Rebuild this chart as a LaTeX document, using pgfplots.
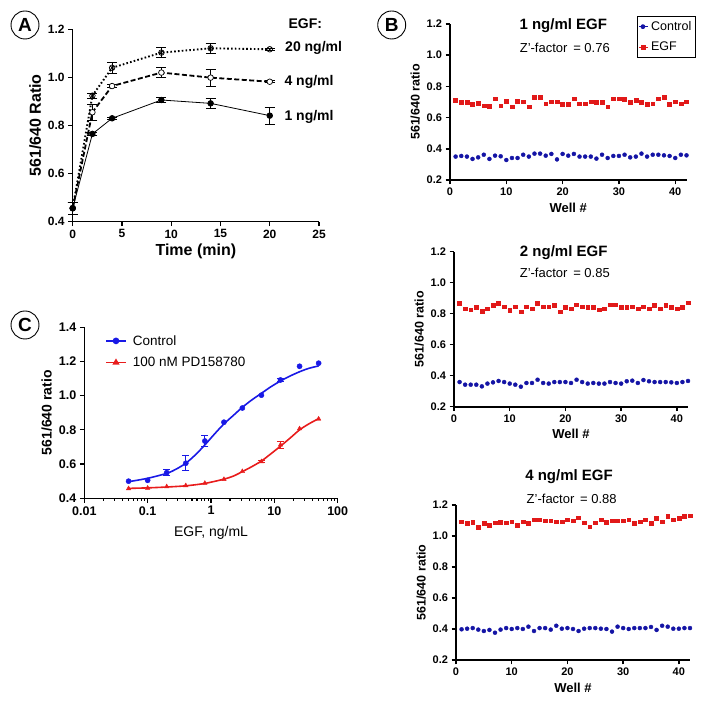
\documentclass[border=0pt]{standalone}
\usepackage{fontspec}
\setmainfont{Liberation Sans}
\usepackage{pgfplots}
\pgfplotsset{compat=1.18}
\usepackage{pgfplotstable}

\definecolor{bblue}{RGB}{20,20,165}
\definecolor{bred}{RGB}{225,25,25}
\definecolor{cblue}{RGB}{25,25,230}
\definecolor{cred}{RGB}{232,28,28}
\newcommand{\fs}[1]{\fontsize{#1}{#1}\selectfont}

\pgfplotsset{prism/.style={scale only axis, axis lines=left, axis line style={-, line width=1.2pt},
  tick align=outside, major tick length=4.5pt, minor tick length=2.5pt, tick style={black, line width=1.2pt}, clip=false}}

\pgfplotstableread{
w c1 e1 c2 e2 c3 e3
1 0.350 0.713 0.359 0.865 0.398 1.092
2 0.354 0.696 0.342 0.832 0.402 1.080
3 0.350 0.696 0.342 0.826 0.406 1.088
4 0.335 0.683 0.342 0.839 0.396 1.056
5 0.345 0.693 0.331 0.815 0.387 1.080
6 0.362 0.676 0.349 0.832 0.394 1.067
7 0.335 0.672 0.357 0.852 0.376 1.086
8 0.356 0.721 0.366 0.865 0.396 1.090
9 0.352 0.676 0.359 0.845 0.406 1.086
10 0.328 0.706 0.349 0.820 0.400 1.092
11 0.341 0.670 0.342 0.845 0.406 1.071
12 0.341 0.706 0.329 0.813 0.400 1.092
13 0.362 0.702 0.353 0.845 0.415 1.080
14 0.350 0.670 0.353 0.832 0.387 1.105
15 0.369 0.728 0.374 0.865 0.406 1.105
16 0.369 0.728 0.353 0.845 0.406 1.099
17 0.356 0.689 0.349 0.845 0.396 1.099
18 0.367 0.702 0.359 0.852 0.421 1.092
19 0.332 0.702 0.359 0.813 0.402 1.092
20 0.367 0.683 0.359 0.839 0.406 1.105
21 0.356 0.683 0.353 0.832 0.400 1.099
22 0.367 0.721 0.374 0.858 0.387 1.118
23 0.350 0.689 0.359 0.845 0.402 1.086
24 0.350 0.689 0.349 0.839 0.406 1.060
25 0.350 0.702 0.353 0.839 0.406 1.086
26 0.337 0.696 0.349 0.826 0.402 1.105
27 0.362 0.696 0.349 0.832 0.400 1.088
28 0.341 0.670 0.359 0.858 0.383 1.099
29 0.354 0.721 0.353 0.858 0.415 1.099
30 0.354 0.721 0.349 0.839 0.406 1.099
31 0.362 0.717 0.364 0.839 0.400 1.105
32 0.345 0.696 0.368 0.845 0.406 1.080
33 0.350 0.713 0.353 0.832 0.406 1.092
34 0.369 0.696 0.372 0.845 0.406 1.105
35 0.350 0.683 0.364 0.832 0.413 1.080
36 0.362 0.689 0.359 0.852 0.394 1.112
37 0.362 0.721 0.359 0.832 0.421 1.092
38 0.358 0.728 0.359 0.852 0.415 1.125
39 0.354 0.683 0.357 0.839 0.402 1.105
40 0.341 0.702 0.353 0.832 0.402 1.112
41 0.362 0.689 0.359 0.839 0.406 1.125
42 0.358 0.702 0.366 0.871 0.406 1.131
}\tabB

\begin{document}
\begin{tikzpicture}
\useasboundingbox (0,0) rectangle (701pt,708pt);

% ---------------- Panel A ----------------
\begin{axis}[prism, at={(72.7pt,486.3pt)}, anchor=south west, width=246.3pt, height=192.4pt,
  xmin=0, xmax=25, ymin=0.4, ymax=1.2,
  xtick={0,5,10,15,20,25}, xticklabels={0,5,10,15,20,25},
  ytick={0.4,0.6,0.8,1.0,1.2}, yticklabels={0.4,0.6,0.8,1.0,1.2},
  ticklabel style={font=\bfseries\fs{12}},
  xlabel={Time (min)}, ylabel={561/640 Ratio},
  label style={font=\bfseries\fs{16}}, xlabel style={yshift=1.5pt}]
\addplot[black, line width=1.9pt, dash pattern=on 1.6pt off 2.2pt, mark=otimes, mark size=2.8pt,
  mark options={solid, line width=0.7pt, fill=white},
  error bars/.cd, y dir=both, y explicit, error bar style={solid, line width=0.8pt},
  error mark options={rotate=90, mark size=5pt, line width=0.8pt}]
  coordinates {(0,0.456) +- (0,0.024) (2,0.924) +- (0,0.01) (4,1.040) +- (0,0.024)
               (9,1.103) +- (0,0.02) (14,1.121) +- (0,0.02) (20,1.117) +- (0,0.004)};
\addplot[black, line width=1.8pt, dash pattern=on 5pt off 2.5pt, mark=*, mark size=2.8pt,
  mark options={solid, line width=0.7pt, fill=white},
  error bars/.cd, y dir=both, y explicit, error bar style={solid, line width=0.8pt},
  error mark options={rotate=90, mark size=5pt, line width=0.8pt}]
  coordinates {(0,0.456) +- (0,0.024) (2,0.855) +- (0,0.034) (4,0.964) +- (0,0.005)
               (9,1.020) +- (0,0.02) (14,0.999) +- (0,0.035) (20,0.982) +- (0,0.004)};
\addplot[black, line width=0.8pt, mark=*, mark size=2.8pt,
  error bars/.cd, y dir=both, y explicit, error bar style={line width=0.8pt},
  error mark options={rotate=90, mark size=5pt, line width=0.8pt}]
  coordinates {(0,0.456) +- (0,0.024) (2,0.765) +- (0,0.005) (4,0.830) +- (0,0.004)
               (9,0.906) +- (0,0.01) (14,0.892) +- (0,0.02) (20,0.841) +- (0,0.035)};
\end{axis}
\node[anchor=west, font=\bfseries\fs{14}] at (285pt,684.7pt) {EGF:};
\node[anchor=west, font=\bfseries\fs{14}] at (281.7pt,660.3pt) {20 ng/ml};
\node[anchor=west, font=\bfseries\fs{14}] at (281pt,626.3pt) {4 ng/ml};
\node[anchor=west, font=\bfseries\fs{14}] at (281pt,591.3pt) {1 ng/ml};

% ---------------- Panel B ----------------
\pgfplotsset{panelB/.style={prism, anchor=south west, height=155pt,
  xmin=0, xmax=42, ymin=0.2, ymax=1.2,
  xtick={0,10,20,30,40}, xticklabels={0,10,20,30,40},
  ytick={0.2,0.4,0.6,0.8,1.0,1.2}, yticklabels={0.2,0.4,0.6,0.8,1.0,1.2},
  ticklabel style={font=\bfseries\fs{11}},
  xlabel={Well \#}, ylabel={561/640 ratio},
  xlabel style={font=\bfseries\fs{13}}, ylabel style={font=\bfseries\fs{12.5}},
  axis line style={line width=1.8pt}, tick style={line width=1.5pt}}}

\begin{axis}[panelB, at={(450pt,528pt)}, width=236.5pt, height=156pt,
  legend style={at={(1.039,1.051)}, anchor=north east, draw=black, line width=0.7pt,
    font=\fs{12.5}, inner xsep=2pt, inner ysep=3pt, row sep=6pt,
    /tikz/every odd column/.append style={column sep=1pt}},
  legend cell align=left,
  legend image code/.code={\path (0,0) -- (0.3cm,0); \draw[#1, mark repeat=1] plot coordinates {(0.13cm,0cm)};}]
\addplot[only marks, mark=*, mark size=2pt, bblue] table[x=w, y=c1] {\tabB};
\addlegendentry{Control}
\addplot[only marks, mark=square*, mark size=1.95pt, bred] table[x=w, y=e1] {\tabB};
\addlegendentry{EGF}
\end{axis}
\node[font=\bfseries\fs{15}] at (563.3pt,682pt) {1 ng/ml EGF};
\node[font=\fs{13}] at (564.8pt,660.3pt) {Z’-factor\,\ = 0.76};

\begin{axis}[panelB, at={(454pt,301.3pt)}, width=234pt]
\addplot[only marks, mark=*, mark size=2pt, bblue] table[x=w, y=c2] {\tabB};
\addplot[only marks, mark=square*, mark size=1.95pt, bred] table[x=w, y=e2] {\tabB};
\end{axis}
\node[font=\bfseries\fs{15}] at (563.7pt,455.3pt) {2 ng/ml EGF};
\node[font=\fs{13}] at (564.8pt,435.3pt) {Z’-factor\,\ = 0.85};

\begin{axis}[panelB, at={(456pt,48pt)}, width=234pt]
\addplot[only marks, mark=*, mark size=2pt, bblue] table[x=w, y=c3] {\tabB};
\addplot[only marks, mark=square*, mark size=1.95pt, bred] table[x=w, y=e3] {\tabB};
\end{axis}
\node[font=\bfseries\fs{15}] at (569pt,231.3pt) {4 ng/ml EGF};
\node[font=\fs{13}] at (571.7pt,208.7pt) {Z’-factor\,\ = 0.88};

% ---------------- Panel C ----------------
\begin{axis}[prism, xmode=log, at={(84.3pt,209.7pt)}, anchor=south west, width=253.4pt, height=171pt,
  xmin=0.01, xmax=100, ymin=0.4, ymax=1.4,
  xtick={0.01,0.1,1,10,100}, xticklabels={0.01,0.1,1,10,100},
  minor xtick={0.02,0.03,0.04,0.05,0.06,0.07,0.08,0.09,0.2,0.3,0.4,0.5,0.6,0.7,0.8,0.9,2,3,4,5,6,7,8,9,20,30,40,50,60,70,80,90},
  ytick={0.4,0.6,0.8,1.0,1.2,1.4}, yticklabels={0.4,0.6,0.8,1.0,1.2,1.4},
  ticklabel style={font=\bfseries\fs{12.5}},
  xlabel={EGF, ng/mL}, xlabel style={font=\fs{14}, yshift=-4pt},
  ylabel={561/640 ratio}, ylabel style={font=\bfseries\fs{14}},
  legend style={at={(0.07,0.978)}, anchor=north west, draw=none, fill=none, font=\fs{13.5}, row sep=6.5pt,
    /tikz/every odd column/.append style={column sep=4pt}},
  legend cell align=left,
  legend image code/.code={\draw[#1, mark repeat=2, mark phase=2] plot coordinates {(0cm,0cm) (0.35cm,0cm) (0.7cm,0cm)};}]
\addlegendimage{cblue, line width=1.6pt, mark=*, mark size=2.5pt}
\addlegendentry{Control}
\addlegendimage{cred, line width=1.6pt, mark=triangle*, mark size=2.5pt}
\addlegendentry{100 nM PD158780}
\addplot[cblue, line width=1.6pt, smooth, forget plot] coordinates {
 (0.05,0.497) (0.1,0.517) (0.2,0.546) (0.28,0.570) (0.4,0.605) (0.57,0.655) (0.8,0.712)
 (1.13,0.775) (1.6,0.835) (2.26,0.885) (3.125,0.932) (4.4,0.975) (6.25,1.014) (8.8,1.052)
 (12.5,1.086) (17.7,1.115) (25,1.140) (35,1.160) (50,1.174)};
\addplot[cred, line width=1.6pt, smooth, forget plot] coordinates {
 (0.05,0.458) (0.1,0.461) (0.2,0.466) (0.4,0.473) (0.8,0.487) (1.6,0.512) (2.26,0.530)
 (3.125,0.556) (4.4,0.585) (6.25,0.618) (8.8,0.660) (12.5,0.705) (17.7,0.752) (25,0.800)
 (35,0.835) (50,0.866)};
\addplot[only marks, cblue, mark=*, mark size=2.6pt, forget plot,
  error bars/.cd, y dir=both, y explicit, error bar style={line width=1.2pt},
  error mark options={rotate=90, mark size=3.5pt, line width=1.2pt}]
  coordinates {(0.05,0.500) (0.1,0.505) (0.2,0.550) +- (0,0.018) (0.4,0.605) +- (0,0.044)
   (0.8,0.735) +- (0,0.031) (1.6,0.845) (3.125,0.928) (6.25,1.003) (12.5,1.092) +- (0,0.01)
   (25,1.172) (50,1.190)};
\addplot[only marks, cred, mark=triangle*, mark size=2.6pt, forget plot,
  error bars/.cd, y dir=both, y explicit, error bar style={line width=1.2pt},
  error mark options={rotate=90, mark size=3.5pt, line width=1.2pt}]
  coordinates {(0.05,0.457) (0.1,0.460) (0.2,0.468) (0.4,0.474) (0.8,0.488) (1.6,0.511)
   (3.125,0.557) (6.25,0.615) +- (0,0.006) (12.5,0.712) +- (0,0.02) (25,0.807) (50,0.864)};
\end{axis}

% ---------------- circled letters ----------------
\foreach \p/\l in {{(25pt,683pt)}/A, {(391.7pt,683pt)}/B, {(25pt,383pt)}/C}
  \node[draw, circle, line width=0.9pt, minimum size=28pt, inner sep=0pt, font=\bfseries\fs{19}] at \p {\l};
\end{tikzpicture}
\end{document}
